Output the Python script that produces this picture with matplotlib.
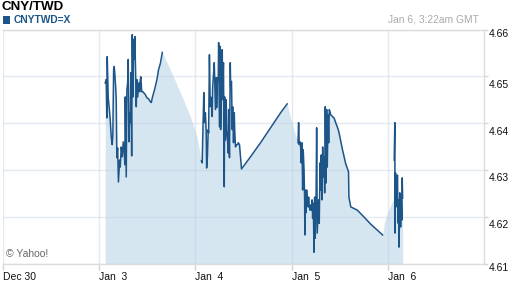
import numpy as np
import matplotlib
matplotlib.use('Agg')
import matplotlib.pyplot as plt
from matplotlib.patches import Rectangle
from matplotlib.transforms import offset_copy

plt.rcParams['font.family'] = ['Liberation Sans', 'DejaVu Sans']

# time = trading hours after Jan 3 00:00 GMT (weekend / holidays collapsed)
jan3_t = [1.5, 1.75, 1.9, 2.0, 2.25, 2.5, 2.75, 3.0, 3.25, 3.4, 3.6, 3.75, 3.9, 4.1, 4.25,
          4.4, 4.6, 4.8, 5.1, 5.25, 5.5, 5.75, 6.0, 6.25, 6.4, 6.5, 6.75, 6.9, 7.1, 7.25,
          7.4, 7.6, 7.75, 7.9, 8.1, 8.25, 8.4, 8.6, 8.75, 8.9, 9.1, 9.25, 9.4, 9.6, 9.75,
          9.9, 10.1, 10.25, 10.4, 10.6, 10.9, 11.5, 11.9, 12.3, 12.75, 13.0, 13.3, 13.8,
          14.4, 14.8, 15.25, 15.75]
jan3_v = [4.6486, 4.6493, 4.6411, 4.6542, 4.6454, 4.6433, 4.6407, 4.6371, 4.6354, 4.6375,
          4.6514, 4.6521, 4.6504, 4.6478, 4.6450, 4.6326, 4.6347, 4.6274, 4.6321, 4.6306,
          4.6349, 4.6328, 4.6360, 4.6336, 4.6311, 4.6456, 4.6285, 4.6471, 4.6486, 4.6536,
          4.6360, 4.6422, 4.6401, 4.6508, 4.6330, 4.6589, 4.6456, 4.6579, 4.6536, 4.6585,
          4.6499, 4.6435, 4.6493, 4.6456, 4.6471, 4.6486, 4.6467, 4.6493, 4.6499, 4.6467,
          4.6467, 4.6461, 4.6454, 4.6452, 4.6446, 4.6444, 4.6456, 4.6471, 4.6493, 4.6514,
          4.6527, 4.6551]

jan4_t = [25.5, 25.7, 25.8, 26.1, 26.3, 26.5, 26.7, 26.8, 27.0, 27.2, 27.3, 27.5, 27.7,
          27.8, 28.0, 28.2, 28.3, 28.5, 28.7, 28.8, 29.0, 29.2, 29.3, 29.5, 29.7, 29.8,
          30.0, 30.2, 30.3, 30.5, 30.7, 30.8, 31.0, 31.2, 31.3, 31.5, 31.7, 31.8, 32.0,
          32.2, 32.3, 32.5, 32.7, 32.8, 33.0, 33.2, 33.3, 33.5, 33.7, 33.8, 34.0, 34.2,
          34.5, 34.7, 35.0, 35.2, 35.5, 37.75, 40.25, 42.75, 45.25, 46.9]
jan4_v = [4.6319, 4.6315, 4.6358, 4.6465, 4.6401, 4.6422, 4.6379, 4.6304, 4.6328, 4.6386,
          4.6379, 4.6546, 4.6435, 4.6456, 4.6446, 4.6414, 4.6476, 4.6504, 4.6529, 4.6499,
          4.6429, 4.6497, 4.6433, 4.6497, 4.6493, 4.6572, 4.6392, 4.6564, 4.6386, 4.6486,
          4.6557, 4.6450, 4.6529, 4.6264, 4.6456, 4.6364, 4.6450, 4.6386, 4.6364, 4.6336,
          4.6429, 4.6326, 4.6529, 4.6478, 4.6489, 4.6386, 4.6435, 4.6358, 4.6422, 4.6386,
          4.6349, 4.6354, 4.6354, 4.6358, 4.6354, 4.6332, 4.6302, 4.6328, 4.6358, 4.6390,
          4.6422, 4.6441]

jan5_t = [49.6, 49.75, 49.9, 50.1, 50.25, 50.4, 50.6, 50.75, 50.9, 51.1, 51.25, 51.3, 51.4,
          51.6, 51.75, 51.9, 52.1, 52.25, 52.4, 52.6, 52.75, 52.9, 53.1, 53.25, 53.4, 53.6,
          53.75, 53.9, 54.1, 54.25, 54.4, 54.6, 54.75, 54.9, 55.1, 55.25, 55.4, 55.6, 55.75,
          55.9, 56.1, 56.25, 56.4, 56.6, 56.75, 56.9, 57.1, 57.25, 57.4, 57.6, 57.75, 58.2,
          58.6, 59.0, 59.4, 59.8, 60.7, 61.5, 62.2, 62.3, 62.75, 64.4, 66.1, 67.75, 69.4, 70.7]
jan5_v = [4.6358, 4.6401, 4.6354, 4.6360, 4.6349, 4.6315, 4.6358, 4.6257, 4.6343, 4.6300,
          4.6236, 4.6161, 4.6257, 4.6208, 4.6257, 4.6236, 4.6221, 4.6242, 4.6221, 4.6214,
          4.6225, 4.6214, 4.6236, 4.6197, 4.6229, 4.6124, 4.6242, 4.6154, 4.6236, 4.6390,
          4.6165, 4.6208, 4.6236, 4.6186, 4.6315, 4.6257, 4.6332, 4.6236, 4.6349, 4.6285,
          4.6328, 4.6251, 4.6435, 4.6272, 4.6429, 4.6306, 4.6418, 4.6358, 4.6429, 4.6424,
          4.6418, 4.6414, 4.6411, 4.6401, 4.6392, 4.6381, 4.6343, 4.6313, 4.6296, 4.6242,
          4.6221, 4.6214, 4.6199, 4.6184, 4.6171, 4.6161]

jan6_t = [73.6, 73.75, 73.8, 73.9, 74.1, 74.25, 74.4, 74.6, 74.75, 74.8, 75.0, 75.2, 75.3,
          75.5, 75.6, 75.7]
jan6_v = [4.6321, 4.6401, 4.6165, 4.6294, 4.6285, 4.6221, 4.6289, 4.6186, 4.6236, 4.6135,
          4.6251, 4.6178, 4.6246, 4.6193, 4.6283, 4.6240]

# stretches where only the shaded area is drawn (no line)
gap_t = [17.75, 20.25, 22.75, 24.4, 47.75, 48.6, 71.1, 71.9, 72.75, 73.4]
gap_v = [4.6514, 4.6465, 4.6414, 4.6371, 4.6411, 4.6386, 4.6186, 4.6208, 4.6225, 4.6236]

day_ticks = [-24, 0, 24, 48, 72]
day_labels = ['Dec 30', 'Jan  3', 'Jan  4', 'Jan  5', 'Jan  6']
price_ticks = [4.61, 4.62, 4.63, 4.64, 4.65, 4.66]

LINE = '#1d5589'
FILL = '#d6e6f1'

segs_t = [jan3_t, jan4_t, jan5_t, jan6_t]
segs_v = [jan3_v, jan4_v, jan5_v, jan6_v]
line_t, line_v = [], []
for t, v in zip(segs_t, segs_v):
    line_t += t + [np.nan]
    line_v += v + [np.nan]

fill_t = np.concatenate(segs_t + [gap_t])
fill_v = np.concatenate(segs_v + [gap_v])
order = np.argsort(fill_t)
fill_t, fill_v = fill_t[order], fill_v[order]

fig = plt.figure(figsize=(5.12, 2.88), dpi=100)
ax = fig.add_axes([3 / 512, 24.5 / 288, 481 / 512, 234 / 288])

ax.fill_between(fill_t, fill_v, 4.61, color=FILL, lw=0, zorder=1)
ax.plot(line_t, line_v, color=LINE, lw=1.1, zorder=2)

ax.set_xlim(-24, 96)
ax.set_ylim(4.61, 4.66)
ax.set_axisbelow('line')
ax.grid(True, color='#bccbda', alpha=0.4, lw=1)

ax.set_xticks(day_ticks, day_labels)
for lbl in ax.get_xticklabels():
    lbl.set_ha('left')
ax.tick_params(axis='x', length=4, width=1, color='#d5d5d5', pad=2,
               labelsize=7.5, labelcolor='#111111')

ax.set_yticks(price_ticks, [''] * len(price_ticks))
ax.tick_params(axis='y', left=False, right=True, length=3, width=1,
               color='#d5d5d5', labelleft=False, labelright=False)
for i, p in enumerate(price_ticks):
    dy = -4.5 if i in (0, len(price_ticks) - 1) else -8.5
    tr = offset_copy(ax.get_yaxis_transform(), fig=fig, x=5, y=dy, units='dots')
    ax.text(1.0, p, f'{p:.2f}', transform=tr, ha='left', va='center',
            fontsize=7.5, color='#111111')

ax.spines['left'].set_visible(False)
for s in ('top', 'bottom', 'right'):
    ax.spines[s].set_color('#dcdcdc')
    ax.spines[s].set_linewidth(1)

ax.text(0.006, 0.04, '\u00a9 Yahoo!', transform=ax.transAxes, fontsize=7.5,
        color='#666666', ha='left', va='center')

fig.text(2 / 512, 1 - 7 / 288, 'CNY/TWD', fontsize=9.6, fontweight='bold',
         ha='left', va='center', color='#000000')
fig.patches.append(Rectangle((2.7 / 512, 1 - 24 / 288), 7.5 / 512, 8 / 288,
                             transform=fig.transFigure, color=LINE, lw=0))
fig.text(13.3 / 512, 1 - 20 / 288, 'CNYTWD=X', fontsize=7.4, fontweight='bold',
         ha='left', va='center', color=LINE)
fig.text(479 / 512, 1 - 20 / 288, 'Jan 6, 3:22am GMT', fontsize=7.4,
         ha='right', va='center', color='#aaaaaa')

fig.savefig('out.png', dpi=100)
